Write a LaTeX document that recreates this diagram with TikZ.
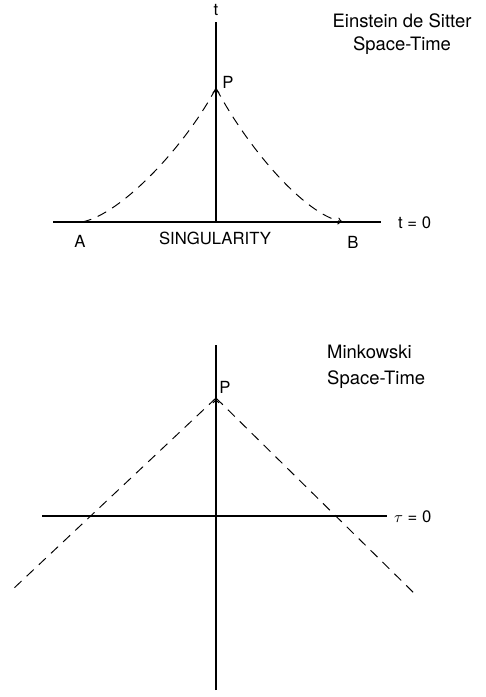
\documentclass[tikz,border=0pt]{standalone}
\usepackage{fontspec}
\setmainfont{TeX Gyre Heros}
\usepackage{tikz}
\usetikzlibrary{arrows.meta}

\begin{document}
\begin{tikzpicture}[
    x=0.02cm, y=-0.02cm,
    lbl/.style={font=\fontsize{9.5}{11}\selectfont, inner sep=1pt},
    title/.style={font=\fontsize{10.5}{13}\selectfont, align=center},
    axis/.style={line width=0.6pt},
    light/.style={dashed, dash pattern=on 5.5pt off 4pt, line width=0.55pt},
    tip/.style={-{To[length=3pt,width=4pt]}}
]
\useasboundingbox (0,0) rectangle (485,697);

% Einstein de Sitter
\coordinate (esTop) at (216,22);
\coordinate (esO) at (216,222);
\coordinate (esL) at (53,222);
\coordinate (esR) at (381,222);
\coordinate (esA) at (82,222);
\coordinate (esB) at (343,222);
\coordinate (esP) at (216,88);

\draw[axis] (esO) -- (esTop);
\draw[line width=1.2pt] (esL) -- (esR);
\draw[light] (esA) .. controls (122,214) and (186,145) .. (esP);
\draw[light, tip] (esP) .. controls (246,145) and (303,214) .. (esB);
\draw[tip, axis] (216,100) -- (esP);

\node[lbl] (esT) at (216,10) {t};
\node[lbl] (esPl) at (228,82) {P};
\node[lbl] (esAl) at (80,241) {A};
\node[lbl] (esBl) at (353,242) {B};
\node[lbl] (sing) at (215,238) {SINGULARITY};
\node[lbl, anchor=west] (esZero) at (396,223) {t = 0};
\node[title] (esTitle) at (402,34) {Einstein de Sitter\\Space-Time};

% Minkowski
\coordinate (mkTop) at (216,345);
\coordinate (mkBot) at (216,690);
\coordinate (mkL) at (42,516);
\coordinate (mkR) at (387,516);
\coordinate (mkP) at (216,398);
\coordinate (mkLL) at (12,590);
\coordinate (mkRR) at (418,597);

\draw[axis] (mkBot) -- (mkTop);
\draw[axis] (mkL) -- (mkR);
\draw[light] (mkP) -- (mkLL);
\draw[light] (mkP) -- (mkRR);
\draw[tip, axis] (216,410) -- (mkP);

\node[lbl] (mkPl) at (225,387) {P};
\node[lbl, anchor=west] (mkZero) at (392,517) {$\tau$ = 0};
\node[title, align=left, anchor=west] (mkTitle) at (321,367) {Minkowski\\[2pt]Space-Time};

\end{tikzpicture}
\end{document}
